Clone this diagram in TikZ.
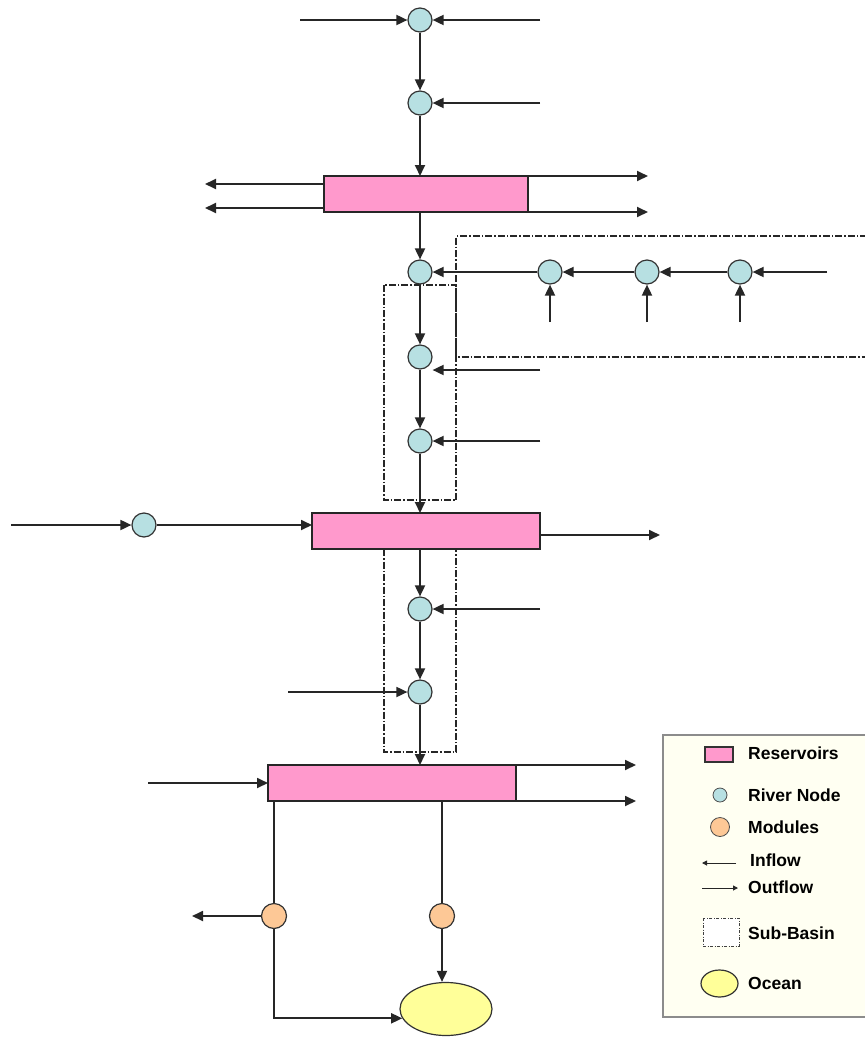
\documentclass[tikz,border=0pt]{standalone}
\usepackage{fontspec}
\setmainfont{Liberation Sans}
\usetikzlibrary{arrows.meta,shapes.geometric,calc}
\definecolor{rivc}{RGB}{183,224,226}
\definecolor{modc}{RGB}{253,200,150}
\definecolor{resc}{RGB}{255,153,204}
\definecolor{oceanc}{RGB}{255,255,153}
\definecolor{legbg}{RGB}{255,255,242}
\begin{document}
\begin{tikzpicture}[x=1pt,y=-1pt,
  flow/.style={line width=1.8pt, draw=black!85},
  arr/.style={flow,-{Triangle[length=11pt,width=10pt]}},
  river/.style={circle, draw=black!80, line width=1.2pt, fill=rivc, minimum size=24pt, inner sep=0pt},
  module/.style={circle, draw=black!80, line width=1.2pt, fill=modc, minimum size=25pt, inner sep=0pt},
  res/.style={rectangle, draw=black!85, line width=1.8pt, fill=resc, inner sep=0pt, minimum height=36pt, outer sep=0pt},
  ocean/.style={ellipse, draw=black!80, line width=1.2pt, fill=oceanc, minimum width=92pt, minimum height=53pt, inner sep=0pt},
  basin/.style={draw=black!85, line width=1.1pt, dash pattern=on 7pt off 2pt on 1.5pt off 2pt},
  legtext/.style={anchor=west, inner sep=0pt, font=\fontsize{17.5}{20}\selectfont\bfseries},
  legarr/.style={line width=1pt, draw=black!85, -{Triangle[length=5pt,width=5pt]}}
]
\useasboundingbox (0,0) rectangle (865,1037);
\fill[white] (0,0) rectangle (865,1037);

% sub-basins
\draw[basin] (384,285) rectangle (456,500);
\draw[basin] (384,549) rectangle (456,752);
\draw[basin] (867,236) -- (456,236) -- (456,357) -- (867,357);

% nodes
\node[river] (N1) at (420,20) {};
\node[river] (N2) at (420,103) {};
\node[res, minimum width=204pt] (R1) at (426,194) {};
\node[river] (N3) at (420,272) {};
\node[river] (T1) at (550,272) {};
\node[river] (T2) at (647,272) {};
\node[river] (T3) at (740,272) {};
\node[river] (N4) at (420,357) {};
\node[river] (N5) at (420,441) {};
\node[river] (L1) at (144,525) {};
\node[res, minimum width=228pt] (R2) at (426,531) {};
\node[river] (N6) at (420,609) {};
\node[river] (N7) at (420,692) {};
\node[res, minimum width=248pt] (R3) at (392,783) {};
\node[module] (O1) at (274,916) {};
\node[module] (O2) at (442,916) {};
\node[ocean] (OC) at (446,1009) {};

% free ends
\coordinate (a1) at (300,20);
\coordinate (a2) at (540,20);
\coordinate (a3) at (540,103);
\coordinate (b1) at (205,184);
\coordinate (b2) at (205,208);
\coordinate (b3) at (648,176);
\coordinate (b4) at (648,212);
\coordinate (c0) at (827,272);
\coordinate (c1) at (550,322);
\coordinate (c2) at (647,322);
\coordinate (c3) at (740,322);
\coordinate (d1) at (540,370);
\coordinate (d2) at (540,441);
\coordinate (e1) at (11,525);
\coordinate (e2) at (660,535);
\coordinate (f1) at (540,609);
\coordinate (f2) at (288,692);
\coordinate (g1) at (148,783);
\coordinate (g2) at (636,765);
\coordinate (g3) at (636,801);
\coordinate (h1) at (192,916);

% connectors
\draw[arr] (a1) -- (N1);
\draw[arr] (a2) -- (N1);
\draw[arr] (N1) -- (N2);
\draw[arr] (a3) -- (N2);
\draw[arr] (N2) -- (N2 |- R1.north);
\draw[arr] (b1 -| R1.west) -- (b1);
\draw[arr] (b2 -| R1.west) -- (b2);
\draw[arr] (b3 -| R1.east) -- (b3);
\draw[arr] (b4 -| R1.east) -- (b4);
\draw[arr] (N3 |- R1.south) -- (N3);
\draw[arr] (c0) -- (T3);
\draw[arr] (T3) -- (T2);
\draw[arr] (T2) -- (T1);
\draw[arr] (T1) -- (N3);
\draw[arr] (c1) -- (T1);
\draw[arr] (c2) -- (T2);
\draw[arr] (c3) -- (T3);
\draw[arr] (N3) -- (N4);
\draw[arr] (d1) -- (d1 -| N4.east);
\draw[arr] (N4) -- (N5);
\draw[arr] (d2) -- (N5);
\draw[arr] (N5) -- (N5 |- R2.north);
\draw[arr] (e1) -- (L1);
\draw[arr] (L1) -- (L1 -| R2.west);
\draw[arr] (e2 -| R2.east) -- (e2);
\draw[arr] (N6 |- R2.south) -- (N6);
\draw[arr] (f1) -- (N6);
\draw[arr] (N6) -- (N7);
\draw[arr] (f2) -- (N7);
\draw[arr] (N7) -- (N7 |- R3.north);
\draw[arr] (g1) -- (R3.west);
\draw[arr] (g2 -| R3.east) -- (g2);
\draw[arr] (g3 -| R3.east) -- (g3);
\draw[flow] (O1 |- R3.south) -- (O1);
\draw[flow] (O2 |- R3.south) -- (O2);
\draw[arr] (O1) -- (h1);
\draw[arr] (O1) |- (OC.192);
\draw[arr] (O2) -- (O2 |- OC.north);

% legend
\draw[draw=black!45, line width=1.2pt, fill=legbg] (663,735) rectangle (868,1017);
\node[rectangle, draw=black!80, line width=1.2pt, fill=resc, minimum width=28pt, minimum height=15pt, inner sep=0pt] (LR) at (719,754.5) {};
\node[legtext] (tR) at (748,753) {Reservoirs};
\node[circle, draw=black!70, line width=0.8pt, fill=rivc, minimum size=14pt, inner sep=0pt] (LN) at (720,795) {};
\node[legtext] (tN) at (748,795) {River Node};
\node[circle, draw=black!70, line width=0.8pt, fill=modc, minimum size=19pt, inner sep=0pt] (LM) at (720,827) {};
\node[legtext] (tM) at (748,827) {Modules};
\coordinate (li1) at (736,863);
\coordinate (li2) at (702,863);
\draw[legarr] (li1) -- (li2);
\node[legtext] (tI) at (750,860) {Inflow};
\coordinate (lo1) at (702,888);
\coordinate (lo2) at (738,888);
\draw[legarr] (lo1) -- (lo2);
\node[legtext] (tO) at (748,887) {Outflow};
\draw[draw=black!75, line width=0.9pt, dash pattern=on 3pt off 1.5pt on 1pt off 1.5pt, fill=white] (703,918) rectangle (739,946);
\node[legtext] (tS) at (748,933) {Sub-Basin};
\node[ellipse, draw=black!80, line width=1.2pt, fill=oceanc, minimum width=37pt, minimum height=27pt, inner sep=0pt] (LO) at (719.5,983.5) {};
\node[legtext] (tC) at (748,983) {Ocean};
\end{tikzpicture}
\end{document}
